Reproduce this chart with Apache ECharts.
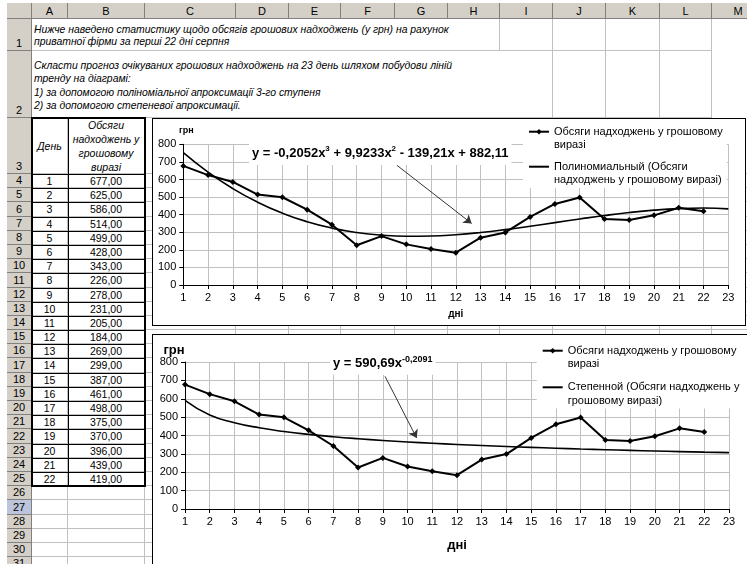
<!DOCTYPE html>
<html><head><meta charset="utf-8">
<script src="https://cdn.jsdelivr.net/npm/echarts@6/dist/echarts.min.js"></script>
<style>
html,body{margin:0;padding:0;background:#fff;overflow:hidden;width:747px;height:564px;}
#sheet{position:absolute;left:0;top:0;width:747px;height:564px;overflow:hidden;font-family:"Liberation Sans",Arial,sans-serif;font-size:10.5px;color:#000;background:#fff;}
.c{position:absolute;box-sizing:border-box;border-right:1px solid #c0c0c0;border-bottom:1px solid #c0c0c0;overflow:hidden;white-space:nowrap;}
.h{position:absolute;box-sizing:border-box;background:#d4d0c8;border-right:1px solid #808080;border-bottom:1px solid #808080;text-align:center;overflow:hidden;font-size:11px;}
.ln{position:absolute;background:#000;}
.chart{position:absolute;border:1px solid #000;background:#fff;}
</style></head><body>
<div id="sheet"></div>
<div id="c1" class="chart" style="left:152px;top:118px;width:592px;height:206px"></div>
<div id="c2" class="chart" style="left:152px;top:334px;width:620px;height:240px"></div>
<script>
// ---------- data ----------
const days = [1,2,3,4,5,6,7,8,9,10,11,12,13,14,15,16,17,18,19,20,21,22];
const receipts = [677,625,586,514,499,428,343,226,278,231,205,184,269,299,387,461,498,375,370,396,439,419];
const trendDays = [1,2,3,4,5,6,7,8,9,10,11,12,13,14,15,16,17,18,19,20,21,22,23];
const polyTrend = [752.6,641.7,548.3,470.9,408.5,359.8,323.5,298.5,283.4,277.1,278.4,286.0,298.6,315.1,334.2,354.6,375.2,394.8,412.0,425.6,434.5,437.4,433.0];
const powerTrend = [590.7,511.0,469.5,442.0,421.9,406.1,393.2,382.4,373.1,365.0,357.8,351.3,345.5,340.2,335.3,330.8,326.6,322.8,319.1,315.7,312.5,309.5,306.6];
const polyArrow = [[9.62,681],[12.64,350]];
const powerArrow = [[9.09,722],[10.37,386]];
const colNames = ['A','B','C','D','E','F','G','H','I','J','K','L','M'];
const rowCount = 31;
const dataName = 'Обсяги надходжень у грошовому виразі';
const polyName = 'Полиномиальный (Обсяги надходжень у грошовому виразі)';
const powerName = 'Степенной (Обсяги надходжень у грошовому виразі)';
const legendText = {};
legendText[dataName] = 'Обсяги надходжень у грошовому\nвиразі';
legendText[polyName] = 'Полиномиальный (Обсяги\nнадходжень у грошовому виразі)';
legendText[powerName] = 'Степенной (Обсяги надходжень у\nгрошовому виразі)';
const row1Lines = ['Нижче наведено статистику щодо обсягів грошових надходжень (у грн) на рахунок','приватної фірми за перші 22 дні серпня'];
const row2Lines = ['Скласти прогноз очікуваних грошових надходжень на 23 день шляхом побудови ліній','тренду на діаграмі:','1) за допомогою поліноміальної апроксимації 3-го ступеня','2) за допомогою степеневої апроксимації.'];
const headA = 'День';
const headB = ['Обсяги','надходжень у','грошовому','виразі'];
const polyEq = ['y = -0,2052x','3',' + 9,9233x','2',' - 139,21x + 882,11'];
const powerEq = ['y = 590,69x','-0,2091'];

// ---------- sheet ----------
const colX = [7,32,68,145,236,289,341,395,448,500,553,606,660,712,765];
const ROW_H = 14.19;
function rowTop(r){ if(r===1) return 19; if(r===2) return 51; if(r===3) return 118; return Math.round(174 + (r-4)*ROW_H); }
const sheet = document.getElementById('sheet');
function box(cls,x1,y1,x2,y2,html,style){
  const d=document.createElement('div'); d.className=cls;
  d.style.left=x1+'px'; d.style.top=y1+'px'; d.style.width=(x2-x1)+'px'; d.style.height=(y2-y1)+'px';
  if(style) Object.assign(d.style,style);
  if(html!=null) d.innerHTML=html;
  sheet.appendChild(d); return d;
}
box('h',colX[0],3,colX[1],19,'');
colNames.forEach((n,i)=>box('h',colX[i+1],3,colX[i+2],19,n,{lineHeight:'16px'}));
for(let r=1;r<=rowCount;r++){
  const st={display:'flex',alignItems:'flex-end',justifyContent:'center',lineHeight:'13px'};
  if(r===27){st.background='#bcc5dc';}
  box('h',colX[0],rowTop(r),colX[1],rowTop(r+1),String(r),st);
}
const txt={display:'flex',flexDirection:'column',justifyContent:'center',paddingLeft:'2px',paddingTop:'3px',fontStyle:'italic',lineHeight:'12.5px',fontSize:'10.4px'};
// row 1
box('c',colX[1],rowTop(1),colX[9],rowTop(2),row1Lines.map(s=>'<div>'+s+'</div>').join(''),txt);
for(let i=9;i<13;i++) box('c',colX[i],rowTop(1),colX[i+1],rowTop(2),'');
// row 2
box('c',colX[1],rowTop(2),colX[10],rowTop(3),row2Lines.map(s=>'<div>'+s+'</div>').join(''),Object.assign({},txt,{lineHeight:'13.5px'}));
for(let i=10;i<13;i++) box('c',colX[i],rowTop(2),colX[i+1],rowTop(3),'');
// rows 3..31
for(let r=3;r<=rowCount;r++){
  for(let i=1;i<=13;i++){
    let html='', st={};
    if(r===3 && i===1){ html=headA; st={display:'flex',alignItems:'center',justifyContent:'center',fontStyle:'italic'}; }
    if(r===3 && i===2){ html=headB.map(s=>'<div>'+s+'</div>').join(''); st={display:'flex',flexDirection:'column',justifyContent:'center',alignItems:'center',fontStyle:'italic',lineHeight:'14px'}; }
    if(r>=4 && r<4+days.length){
      const k=r-4;
      if(i===1){ html=String(days[k]); st={textAlign:'center',lineHeight:'14px'}; }
      if(i===2){ html=receipts[k].toFixed(2).replace('.',','); st={textAlign:'center',lineHeight:'14px'}; }
    }
    box('c',colX[i],rowTop(r),colX[i+1],rowTop(r+1),html,st);
  }
}
// table borders A3:B25
const tTop=rowTop(3), tBot=rowTop(4+days.length);
for(let r=4;r<4+days.length;r++){ box('ln',colX[1],rowTop(r),colX[3],rowTop(r)+1,null); }
box('ln',colX[2],tTop,colX[2]+1,tBot,null);
box('ln',colX[1]-1,tTop-1,colX[3]+1,tTop+1,null);
box('ln',colX[1]-1,tBot-1,colX[3]+1,tBot+1,null);
box('ln',colX[1]-1,tTop-1,colX[1]+1,tBot+1,null);
box('ln',colX[3]-1,tTop-1,colX[3]+1,tBot+1,null);

// ---------- charts ----------
const FONT='"Liberation Sans", Arial, sans-serif';
function axisCommon(){
  return {
    axisLine:{show:true,onZero:false,lineStyle:{color:'#000',width:1}},
    axisTick:{show:true,length:4,inside:false,lineStyle:{color:'#000',width:1}},
    axisLabel:{color:'#000',fontSize:11,fontFamily:FONT,margin:7},
    splitLine:{show:true,lineStyle:{color:'#c0c0c0',width:1,type:'solid'}}
  };
}
function makeOption(cfg){
  const xa=Object.assign(axisCommon(),{type:'value',min:1,max:23,interval:1,name:'дні',nameLocation:'middle',nameGap:cfg.xNameGap,
    nameTextStyle:{fontSize:cfg.xNameSize,fontWeight:'bold',color:'#000',fontFamily:FONT}});
  const ya=Object.assign(axisCommon(),{type:'value',min:0,max:800,interval:100,name:'грн',nameLocation:'end',nameGap:cfg.yNameGap,
    nameTextStyle:{fontSize:cfg.yNameSize,fontWeight:'bold',color:'#000',fontFamily:FONT,padding:cfg.yNamePad}});
  return {
    animation:false,
    textStyle:{fontFamily:FONT},
    grid:{left:cfg.grid[0],top:cfg.grid[1],right:cfg.grid[2],bottom:cfg.grid[3],containLabel:false,outerBoundsMode:'none'},
    xAxis:xa, yAxis:ya,
    legend:{orient:'vertical',left:cfg.legend[0],top:cfg.legend[1],itemGap:cfg.legend[2],padding:[0,4,1,5],
      backgroundColor:'#fff',itemWidth:20,itemHeight:7,selectedMode:false,
      textStyle:{fontSize:11,color:'#000',fontFamily:FONT,lineHeight:13.5},
      formatter:n=>'\n'+legendText[n],
      data:[{name:dataName},{name:cfg.trendName,itemStyle:{opacity:0}}]},
    graphic:[{type:'text',x:cfg.eqPos[0],y:cfg.eqPos[1],z:100,
      style:{text:cfg.eqText,rich:{m:{fontSize:13,fontWeight:'bold',fontFamily:FONT,fill:'#000',lineHeight:17},
        s:{fontSize:cfg.supSize,fontWeight:'bold',fontFamily:FONT,fill:'#000',verticalAlign:'top'}},
        verticalAlign:'middle',backgroundColor:'#fff',padding:[3,3,3,3]}}],
    series:[
      {name:dataName,type:'line',data:days.map((d,i)=>[d,receipts[i]]),symbol:'diamond',symbolSize:6,
        lineStyle:{color:'#000',width:2},itemStyle:{color:'#000'},emphasis:{disabled:true},z:3,
        markLine:{silent:true,symbol:['none','arrow'],symbolSize:8,label:{show:false},emphasis:{disabled:true},
          lineStyle:{color:'#333',width:1,type:'solid'},
          data:[[{coord:cfg.arrow[0]},{coord:cfg.arrow[1]}]]}},
      {name:cfg.trendName,type:'line',data:trendDays.map((d,i)=>[d,cfg.trend[i]]),smooth:true,symbol:'none',
        lineStyle:{color:'#000',width:1.6},itemStyle:{color:'#000'},emphasis:{disabled:true},z:2}
    ]
  };
}
function eqRich(parts){ return parts.map((p,i)=>(i%2===0?'{m|':'{s|')+p+'}').join(''); }
const c1=echarts.init(document.getElementById('c1'));
c1.setOption(makeOption({grid:[30.3,25.3,16.7,40],xNameGap:24,xNameSize:10,yNameGap:9,yNameSize:9,yNamePad:[0,0,0,6],
  legend:[370,-7.55,-5.5],trendName:polyName,trend:polyTrend,arrow:polyArrow,eqPos:[96,34.5],eqText:eqRich(polyEq),supSize:8}));
const c2=echarts.init(document.getElementById('c2'));
c2.setOption(makeOption({grid:[32,27,44,66],xNameGap:30,xNameSize:13,yNameGap:4,yNameSize:13,yNamePad:[0,22,0,0],
  legend:[383.7,-4.55,-3.9],trendName:powerName,trend:powerTrend,arrow:powerArrow,eqPos:[177,28.3],eqText:eqRich(powerEq),supSize:9}));
</script>
</body></html>
